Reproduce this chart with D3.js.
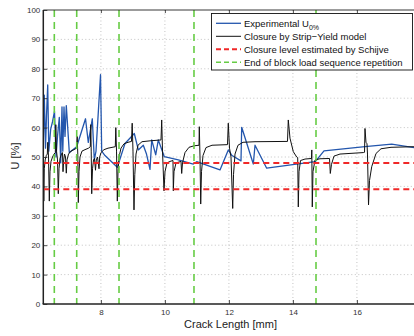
<!DOCTYPE html>
<html>
<head>
<meta charset="utf-8">
<script src="https://cdn.jsdelivr.net/npm/d3@7"></script>
<style>
    body { margin: 0; background: #fff; }
    text { font-family: "Liberation Sans", Arial, Helvetica, sans-serif; }
</style>
</head>
<body>
<script>
// 画布大小
const width = 414;
const height = 336;

// 实验数据 U_0% : [crack length mm, U %]
const experimental = [
    [6.200, 55], [6.231, 71], [6.269, 53], [6.300, 64], [6.338, 74.5], [6.372, 52],
    [6.431, 59.5], [6.488, 62], [6.550, 65.5], [6.597, 50], [6.644, 57], [6.700, 63.5],
    [6.744, 48], [6.784, 67], [6.809, 52], [6.847, 67], [6.878, 57], [6.919, 67.5],
    [7.013, 51.5], [7.244, 53.5], [7.519, 63], [7.606, 55], [7.731, 63], [7.794, 49],
    [7.847, 52], [7.988, 78], [8.025, 52], [8.128, 50.5], [8.513, 46.5], [8.753, 54.6],
    [9.044, 58], [9.169, 52.4], [9.325, 54], [9.425, 51], [9.534, 45.8], [9.588, 55.8],
    [9.713, 50.7], [9.794, 55.8], [9.981, 50.1], [10.419, 49], [10.888, 47.6], [10.994, 48.4],
    [11.566, 46.2], [11.722, 45.6], [11.981, 52.4], [12.097, 50.5], [12.378, 48.7], [12.400, 60.1],
    [12.763, 47.6], [12.816, 54], [13.181, 46.2], [14.691, 48.4], [14.744, 49], [14.972, 52.1],
    [16.253, 53.5], [17.088, 54.4], [17.784, 53.2]
];

// Strip-Yield 模型闭合水平
const strip_yield = [
    [6.200, 52], [6.216, 35], [6.231, 46], [6.259, 49], [6.294, 50.5], [6.325, 51],
    [6.341, 55], [6.363, 50], [6.388, 35], [6.409, 45], [6.441, 48.5], [6.488, 50],
    [6.534, 51], [6.575, 51.5], [6.591, 61], [6.613, 52], [6.644, 49], [6.669, 37.5],
    [6.691, 46], [6.722, 49.5], [6.769, 51], [6.800, 51.5], [6.816, 45], [6.838, 49],
    [6.863, 51], [6.894, 50], [6.919, 44.5], [6.941, 49], [6.988, 51], [7.066, 52],
    [7.159, 52.5], [7.238, 53], [7.259, 57], [7.278, 51], [7.294, 34.5], [7.316, 45],
    [7.347, 50], [7.409, 52], [7.503, 52.5], [7.613, 53], [7.669, 53.5], [7.684, 61],
    [7.697, 52], [7.713, 37.5], [7.738, 46], [7.769, 49], [7.800, 49.5], [7.831, 45.5],
    [7.856, 49], [7.894, 50], [7.941, 46], [7.963, 50], [8.003, 51.5], [8.097, 52.5],
    [8.222, 53], [8.450, 53.5], [8.466, 60], [8.488, 52], [8.513, 35], [8.534, 45],
    [8.566, 50], [8.628, 53], [8.722, 54.5], [8.847, 55], [8.956, 55.3], [8.978, 61.5],
    [9.003, 52], [9.034, 32], [9.059, 44], [9.097, 51], [9.159, 54], [9.284, 55.2],
    [9.534, 55.5], [9.878, 55.8], [9.900, 62.6], [9.925, 52], [9.972, 38.5], [10.003, 45],
    [10.066, 48], [10.159, 48.5], [10.253, 48.8], [10.263, 38.5], [10.284, 45], [10.347, 48],
    [10.503, 48.5], [10.525, 44.4], [10.550, 48], [10.628, 51.5], [10.753, 53.3], [10.909, 53.8],
    [11.066, 54], [11.075, 60.3], [11.097, 50], [11.119, 34], [11.144, 45], [11.191, 50.5],
    [11.284, 53.2], [11.472, 54], [11.956, 54.2], [11.981, 61.5], [12.019, 53], [12.066, 50],
    [12.119, 32.5], [12.144, 44], [12.191, 51], [12.284, 54], [12.441, 55], [12.816, 55.2],
    [13.831, 55.3], [13.856, 62.6], [13.909, 56.4], [14.013, 51.8], [14.119, 50], [14.150, 49.8],
    [14.169, 33], [14.191, 45], [14.238, 48.8], [14.378, 49.3], [14.581, 49.5], [14.591, 52.4],
    [14.606, 33], [14.628, 45], [14.691, 49], [14.847, 49.4], [15.144, 49.5], [15.169, 44.4],
    [15.206, 47.5], [15.284, 50.3], [15.472, 51], [16.200, 51.5], [16.238, 51.6], [16.253, 59.7],
    [16.284, 55], [16.316, 54.5], [16.331, 51], [16.363, 33.7], [16.394, 42], [16.463, 46.7],
    [16.597, 51.2], [16.753, 52.8], [17.066, 53.3], [17.784, 53.5]
];

// Schijve 估计的闭合水平
const schijve_levels = [48, 39];
// 块载荷序列重复结束位置
const block_ends = [6.544, 7.244, 8.566, 10.909, 14.722];

// 刻度
const x_ticks = [8, 10, 12, 14, 16];
const y_ticks = [0, 10, 20, 30, 40, 50, 60, 70, 80, 90, 100];

const legend_items = [
    { label: 'Experimental U', sub: '0%', color: '#2356ad', dash: null, width: 1.3 },
    { label: 'Closure by Strip\u2212Yield model', color: '#111', dash: null, width: 1 },
    { label: 'Closure level estimated by Schijve', color: '#f02828', dash: '5,3', width: 2 },
    { label: 'End of block load sequence repetition', color: '#66cc44', dash: '5,3', width: 1.6 }
];

// 绘图区域
const plot = { left: 43.3, right: 414.5, top: 10, bottom: 304 };

const x = d3.scaleLinear().domain([6.2, 17.8]).range([plot.left, plot.right]);
const y = d3.scaleLinear().domain([0, 100]).range([plot.bottom, plot.top]);

const svg = d3.select('body')
    .append('svg')
    .attr('width', width)
    .attr('height', height);

svg.append('rect')
    .attr('width', width)
    .attr('height', height)
    .attr('fill', 'white');

svg.append('defs').append('clipPath')
    .attr('id', 'clip')
    .append('rect')
    .attr('x', plot.left)
    .attr('y', plot.top)
    .attr('width', plot.right - plot.left)
    .attr('height', plot.bottom - plot.top);

// 网格
function draw_grid() {
    const g = svg.append('g').attr('id', 'grid_g')
        .attr('stroke', '#b4b4b4')
        .attr('stroke-width', 0.8)
        .attr('stroke-dasharray', '1,2.5');
    g.selectAll('line.gx')
        .data(x_ticks).enter()
        .append('line')
        .attr('x1', d => x(d)).attr('x2', d => x(d))
        .attr('y1', plot.top).attr('y2', plot.bottom);
    g.selectAll('line.gy')
        .data(y_ticks.slice(1, -1)).enter()
        .append('line')
        .attr('x1', plot.left).attr('x2', plot.right)
        .attr('y1', d => y(d)).attr('y2', d => y(d));
}

// 数据曲线
function draw_lines() {
    const line = d3.line().x(d => x(d[0])).y(d => y(d[1]));
    const g = svg.append('g').attr('id', 'lines_g').attr('clip-path', 'url(#clip)');

    g.append('path')
        .datum(experimental)
        .attr('fill', 'none')
        .attr('stroke', legend_items[0].color)
        .attr('stroke-width', 1.3)
        .attr('stroke-linejoin', 'round')
        .attr('d', line);

    g.append('path')
        .datum(strip_yield)
        .attr('fill', 'none')
        .attr('stroke', legend_items[1].color)
        .attr('stroke-width', 1)
        .attr('d', line);

    g.selectAll('line.red')
        .data(schijve_levels).enter()
        .append('line')
        .attr('x1', plot.left).attr('x2', plot.right)
        .attr('y1', d => y(d)).attr('y2', d => y(d))
        .attr('stroke', legend_items[2].color)
        .attr('stroke-width', 2)
        .attr('stroke-dasharray', '6,4');

    g.selectAll('line.green')
        .data(block_ends).enter()
        .append('line')
        .attr('x1', d => x(d)).attr('x2', d => x(d))
        .attr('y1', plot.top).attr('y2', plot.bottom)
        .attr('stroke', legend_items[3].color)
        .attr('stroke-width', 1.6)
        .attr('stroke-dasharray', '7,5');
}

// 坐标轴
function draw_axes() {
    svg.append('g')
        .attr('transform', `translate(0,${plot.bottom})`)
        .call(d3.axisBottom(x).tickValues(x_ticks).tickSizeInner(-4).tickSizeOuter(0).tickPadding(5));
    svg.append('g')
        .attr('transform', `translate(${plot.left},0)`)
        .call(d3.axisLeft(y).tickValues(y_ticks).tickSizeInner(-4).tickSizeOuter(0).tickPadding(3));
    // 顶部刻度
    svg.append('g')
        .attr('transform', `translate(0,${plot.top})`)
        .call(d3.axisTop(x).tickValues(x_ticks).tickSizeInner(-3).tickSizeOuter(0).tickFormat(''));

    svg.selectAll('.domain').remove();
    svg.selectAll('.tick line').attr('stroke', '#222').attr('stroke-width', 0.8);
    svg.selectAll('.tick text')
        .attr('fill', '#333')
        .style('font-size', '8px')
        .style('font-family', '"Liberation Sans", Arial, sans-serif');

    // 边框
    svg.append('line')
        .attr('x1', plot.left).attr('x2', plot.right)
        .attr('y1', plot.top).attr('y2', plot.top)
        .attr('stroke', '#222').attr('stroke-width', 0.9);
    svg.append('line')
        .attr('x1', plot.left - 0.7).attr('x2', plot.right)
        .attr('y1', plot.bottom).attr('y2', plot.bottom)
        .attr('stroke', '#222').attr('stroke-width', 1.5);
    svg.append('line')
        .attr('x1', plot.left).attr('x2', plot.left)
        .attr('y1', plot.top).attr('y2', plot.bottom)
        .attr('stroke', '#222').attr('stroke-width', 1.5);

    svg.append('text')
        .attr('x', 230.5)
        .attr('y', 327.5)
        .attr('text-anchor', 'middle')
        .attr('fill', '#222')
        .style('font-size', '11px')
        .text('Crack Length [mm]');

    svg.append('text')
        .attr('transform', 'translate(19,156) rotate(-90)')
        .attr('text-anchor', 'middle')
        .attr('fill', '#222')
        .style('font-size', '11px')
        .text('U [%]');
}

// 图例
function draw_legend() {
    const g = svg.append('g').attr('id', 'legend_g');
    g.append('rect')
        .attr('x', 211.5).attr('y', 13.5)
        .attr('width', 201).attr('height', 56.5)
        .attr('fill', 'white')
        .attr('stroke', '#111')
        .attr('stroke-width', 0.9);
    const row = g.selectAll('g.item')
        .data(legend_items).enter()
        .append('g')
        .attr('transform', (d, i) => `translate(0,${23.3 + i * 13})`);
    row.append('line')
        .attr('x1', 216).attr('x2', 241)
        .attr('stroke', d => d.color)
        .attr('stroke-width', d => d.width)
        .attr('stroke-dasharray', d => d.dash);
    const t = row.append('text')
        .attr('x', 244)
        .attr('y', 3.3)
        .attr('fill', '#111')
        .style('font-size', '9.5px')
        .text(d => d.label);
    t.filter(d => d.sub)
        .append('tspan')
        .attr('dy', 3)
        .style('font-size', '7px')
        .text(d => d.sub);
}

draw_grid();
draw_lines();
draw_axes();
draw_legend();
</script>
</body>
</html>
